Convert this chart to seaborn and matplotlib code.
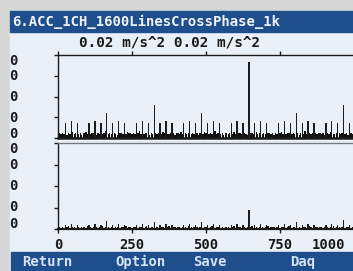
import matplotlib
matplotlib.use("Agg")
import matplotlib.pyplot as plt
import matplotlib.transforms as mtransforms
from matplotlib.patches import Rectangle
import seaborn as sns

# ---------------- data ----------------
title = "6.ACC_1CH_1600LinesCrossPhase_1k"
scale_text = "0.02 m/s^2 0.02 m/s^2"
buttons = ["Return", "Option", "Save", "Daq"]
x_ticks = [0, 250, 500, 750, 1000]
x_tick_labels = ["0", "250", "500", "750", "1000"]
y_tick_labels = ["0", "0", "0", "0", "0"]
y_max = 20.0  # mm/s^2  (0.02 m/s^2 full scale)

# harmonic lines (Hz)
peak_freq = list(range(25, 1000, 20))
peak_top = [3.6, 4.1, 3.6, 1.2, 3.6, 4.1, 3.6, 6.0,
            3.6, 4.1, 3.6, 1.2, 3.6, 4.1, 3.6, 8.0,
            3.6, 4.1, 3.6, 1.2, 3.6, 4.1, 3.6, 6.0,
            3.6, 4.1, 3.6, 1.2, 3.6, 4.1, 3.6, 18.3,
            3.6, 4.1, 3.6, 1.2, 3.6, 4.1, 3.6, 6.0,
            3.6, 4.1, 3.6, 1.2, 3.6, 4.1, 3.6, 8.0,
            3.6]
peak_bot = [0.9, 1.1, 0.9, 0.5, 0.9, 1.1, 0.9, 1.9,
            0.9, 1.1, 0.9, 0.5, 0.9, 1.1, 0.9, 1.6,
            0.9, 1.1, 0.9, 0.5, 0.9, 1.1, 0.9, 1.6,
            0.9, 1.1, 0.9, 0.5, 0.9, 1.1, 0.9, 4.4,
            0.9, 1.1, 0.9, 0.5, 0.9, 1.1, 0.9, 1.6,
            0.9, 1.1, 0.9, 0.5, 0.9, 1.1, 0.9, 2.0,
            0.9]

# background lines between harmonics (Hz)
noise_freq = [f for f in range(5, 1000, 5) if f not in peak_freq]
noise_top = [1.1, 0.9, 1.3, 1.0, 0.8, 1.2, 1.0, 1.4, 0.9, 1.1,
             1.0, 1.3, 0.8, 1.1, 1.5, 0.9, 1.0, 1.2, 1.1, 0.8,
             1.3, 1.0, 0.9, 1.2, 1.6, 1.0, 1.1, 0.9, 1.2, 1.0,
             0.8, 1.1, 1.3, 1.0, 0.9, 1.4, 1.1, 1.0, 1.2, 0.9,
             1.1, 1.7, 1.0, 0.9, 1.2, 1.1, 0.8, 1.3, 1.0, 1.1,
             0.9, 1.2, 1.0, 1.4, 1.1, 0.9, 1.0, 1.3, 1.2, 0.8,
             1.1, 1.0, 1.5, 0.9, 1.2, 1.0, 1.1, 0.9, 1.3, 1.0,
             1.2, 0.8, 1.1, 1.0, 1.4, 1.1, 0.9, 1.2, 1.0, 1.6,
             0.9, 1.1, 1.0, 1.3, 0.8, 1.2, 1.0, 1.1, 0.9, 1.4,
             1.0, 1.2, 1.1, 0.9, 1.3, 1.0, 0.8, 1.2, 1.1, 1.0,
             1.5, 0.9, 1.1, 1.0, 1.2, 0.9, 1.3, 1.1, 1.0, 0.8,
             1.2, 1.0, 1.1, 1.4, 0.9, 1.0, 1.2, 1.1, 0.9, 1.3,
             1.0, 1.1, 0.8, 1.2, 1.0, 1.6, 0.9, 1.1, 1.0, 1.2,
             1.1, 0.9, 1.3, 1.0, 1.2, 0.8, 1.1, 1.0, 1.4, 0.9,
             1.0, 1.2, 1.1, 0.9, 1.3, 1.0, 1.1, 0.8, 1.2, 1.0]
noise_bot = [0.4, 0.3, 0.5, 0.3, 0.4, 0.6, 0.3, 0.4, 0.5, 0.3,
             0.4, 0.3, 0.5, 0.4, 0.3, 0.6, 0.4, 0.3, 0.4, 0.5,
             0.3, 0.4, 0.7, 0.3, 0.4, 0.5, 0.3, 0.4, 0.3, 0.5,
             0.4, 0.3, 0.5, 0.4, 0.6, 0.3, 0.4, 0.3, 0.5, 0.4,
             0.3, 0.5, 0.4, 0.3, 0.4, 0.6, 0.3, 0.4, 0.5, 0.3,
             0.4, 0.3, 0.5, 0.4, 0.3, 0.4, 0.7, 0.3, 0.4, 0.5,
             0.3, 0.4, 0.3, 0.5, 0.4, 0.3, 0.6, 0.4, 0.3, 0.4,
             0.5, 0.3, 0.4, 0.3, 0.5, 0.4, 0.3, 0.4, 0.6, 0.3,
             0.4, 0.5, 0.3, 0.4, 0.3, 0.5, 0.4, 0.3, 0.4, 0.6,
             0.3, 0.4, 0.5, 0.3, 0.4, 0.3, 0.5, 0.4, 0.7, 0.3,
             0.4, 0.3, 0.5, 0.4, 0.3, 0.4, 0.6, 0.3, 0.4, 0.5,
             0.3, 0.4, 0.3, 0.5, 0.4, 0.3, 0.4, 0.6, 0.3, 0.4,
             0.5, 0.3, 0.4, 0.3, 0.5, 0.4, 0.3, 0.6, 0.4, 0.3,
             0.4, 0.5, 0.3, 0.4, 0.3, 0.5, 0.4, 0.3, 0.4, 0.6,
             0.3, 0.4, 0.5, 0.3, 0.4, 0.3, 0.5, 0.4, 0.3, 0.4]

# ---------------- style ----------------
sns.set_style("white")
plt.rcParams["font.family"] = ["DejaVu Sans Mono", "DejaVu Sans"]
plt.rcParams["font.weight"] = "bold"

W, H = 353, 271
DPI = 100
SCREEN = "#e9f0f7"
BAR = "#1f4e8c"
INK = "#1a1a1a"

fig = plt.figure(figsize=(W / DPI, H / DPI), dpi=DPI, facecolor="#d6d6d6")


def fx(px):
    return px / W


def fy(py):
    return 1 - py / H


# screen, title bar, bottom bar
fig.patches.append(Rectangle((fx(10), 0), 1 - fx(10), fy(11), transform=fig.transFigure,
                             color=SCREEN, zorder=-10))
fig.patches.append(Rectangle((fx(10), fy(32)), 1 - fx(10), fy(11) - fy(32),
                             transform=fig.transFigure, color=BAR, zorder=-5))
fig.patches.append(Rectangle((fx(11), 0), 1 - fx(11), fy(252), transform=fig.transFigure,
                             color=BAR, zorder=-5))

fig.text(fx(12), fy(22), title, color="#eef3fa", fontsize=10, fontweight="bold",
         va="center", ha="left")
fig.text(fx(170), fy(43), scale_text, color=INK, fontsize=10.3, fontweight="bold",
         va="center", ha="center")
for name, px in zip(buttons, [22, 115, 193, 290]):
    fig.text(fx(px), fy(262), name, color="#d4e3f6", fontsize=10, fontweight="bold",
             va="center", ha="left")

left = fx(58)
width = (354 - 58) / W
ax1 = fig.add_axes([left, fy(138), width, fy(55) - fy(138)])
ax2 = fig.add_axes([left, fy(229), width, fy(143) - fy(229)])


def draw(ax, freqs, vals, w, color):
    sns.barplot(x=freqs, y=vals, native_scale=True, width=w, color=color,
                saturation=1, linewidth=0, errorbar=None, orient="x", ax=ax)


draw(ax1, noise_freq, noise_top, 0.9, "#101010")
draw(ax1, peak_freq, peak_top, 0.22, "#1c1c1c")
draw(ax2, noise_freq, noise_bot, 0.9, "#101010")
draw(ax2, peak_freq, peak_bot, 0.22, "#1c1c1c")

label_frac = {ax1: [0.94, 0.77, 0.518, 0.265, 0.072],
              ax2: [0.953, 0.767, 0.512, 0.279, 0.081]}

for ax in (ax1, ax2):
    ax.set_facecolor(SCREEN)
    ax.set_xlim(0, 1000)
    ax.set_ylim(0, y_max)
    ax.set_xlabel("")
    ax.set_ylabel("")
    ax.spines["right"].set_visible(False)
    for s in ("left", "bottom", "top"):
        ax.spines[s].set_color(INK)
        ax.spines[s].set_linewidth(1.0)
    ax.set_xticks(x_ticks)
    # tick marks (minor) and labels (major)
    ax.set_yticks([0, 5, 10, 15, 20], minor=True)
    ax.set_yticks([f * y_max for f in label_frac[ax]])
    ax.set_yticklabels(y_tick_labels)
    ax.tick_params(axis="y", which="major", length=0, pad=29, labelsize=10,
                   labelcolor=INK)
    ax.tick_params(axis="y", which="minor", left=True, length=3, width=1,
                   color=INK, direction="out")
    ax.grid(False)

ax1.spines["bottom"].set_linewidth(1.8)
ax1.tick_params(axis="x", which="major", bottom=False, top=True, labelbottom=False,
                labeltop=False, length=3, width=1, color=INK, direction="out")

ax2.spines["top"].set_color("#7a7a7a")
ax2.spines["bottom"].set_linewidth(1.6)
ax2.set_xticklabels(x_tick_labels)
ax2.tick_params(axis="x", which="major", bottom=True, top=False, length=3, width=1,
                color=INK, direction="out", pad=3.5, labelsize=10, labelcolor=INK)
last = ax2.get_xticklabels()[-1]
last.set_transform(last.get_transform() +
                   mtransforms.ScaledTranslation(-26 / DPI, 0, fig.dpi_scale_trans))

fig.savefig("out.png", dpi=DPI, facecolor=fig.get_facecolor())
